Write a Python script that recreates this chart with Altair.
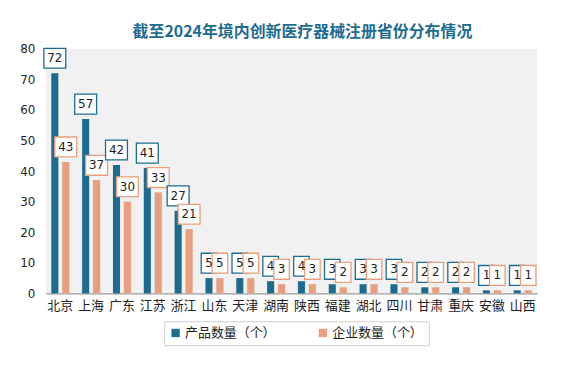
import altair as alt
import pandas as pd

provinces = ["北京", "上海", "广东", "江苏", "浙江", "山东", "天津", "湖南",
             "陕西", "福建", "湖北", "四川", "甘肃", "重庆", "安徽", "山西"]
products = [72, 57, 42, 41, 27, 5, 5, 4, 4, 3, 3, 3, 2, 2, 1, 1]
companies = [43, 37, 30, 33, 21, 5, 5, 3, 3, 2, 3, 2, 2, 2, 1, 1]
series = ["产品数量（个）", "企业数量（个）"]
colors = ["#1D6B8F", "#E89F7E"]

rows = []
for p, a, b in zip(provinces, products, companies):
    rows.append({"省份": p, "系列": series[0], "数量": a})
    rows.append({"省份": p, "系列": series[1], "数量": b})
df = pd.DataFrame(rows)

FONT = "Noto Sans CJK SC"

x = alt.X("省份:N", sort=provinces, title=None,
          scale=alt.Scale(paddingInner=0.29, paddingOuter=0.115),
          axis=alt.Axis(labelAngle=0, labelFontSize=13, labelFont=FONT, labelColor="#222222",
                        domainColor="#999999", ticks=False, labelPadding=6, domainWidth=1.2))
xo = alt.XOffset("系列:N", sort=series, scale=alt.Scale(paddingInner=0, paddingOuter=0))
color = alt.Color("系列:N", sort=series, scale=alt.Scale(domain=series, range=colors),
                  legend=alt.Legend(title=None, orient="none", legendX=119, legendY=274,
                                    direction="horizontal",
                                    symbolType="square", symbolSize=70, labelFontSize=13,
                                    labelFont=FONT, labelColor="#222222", columnPadding=40,
                                    strokeColor="#d0d0d0", padding=5,
                                    symbolStrokeWidth=0, labelOffset=3))
y = alt.Y("数量:Q", title=None, scale=alt.Scale(domain=[0, 80]),
          axis=alt.Axis(values=list(range(0, 81, 10)), grid=False, domain=False, ticks=False,
                        labelFontSize=12, labelFont="DejaVu Sans", labelColor="#222222",
                        labelPadding=11))
stroke = alt.Stroke("系列:N", sort=series, scale=alt.Scale(domain=series, range=colors),
                    legend=None)

base = alt.Chart(df)

shadow = base.mark_bar(color="#cfcfcf", opacity=0.55, xOffset=-3, size=8).encode(
    x=x, xOffset=xo, y=y)
bars = base.mark_bar(size=7).encode(x=x, xOffset=xo, y=y, color=color)
wide_boxes = base.transform_filter("datum['数量'] >= 10").mark_point(
    shape="M-1.1,-1L1.1,-1L1.1,1L-1.1,1Z", size=400, filled=True, fill="white",
    strokeWidth=1.3, yOffset=-15, opacity=1).encode(x=x, xOffset=xo, y=y, stroke=stroke)
narrow_boxes = base.transform_filter("datum['数量'] < 10").mark_point(
    shape="M-0.78,-1L0.78,-1L0.78,1L-0.78,1Z", size=400, filled=True, fill="white",
    strokeWidth=1.3, yOffset=-15, opacity=1).encode(x=x, xOffset=xo, y=y, stroke=stroke)
labels = base.mark_text(fontSize=12, font="DejaVu Sans", color="#222222", yOffset=-15,
                        baseline="middle").encode(
    x=x, xOffset=xo, y=y, text="数量:Q")

chart = alt.layer(shadow, bars, wide_boxes, narrow_boxes, labels).properties(
    width=494, height=246,
    padding={"left": 11, "top": 15, "right": 40, "bottom": 10},
    background="white",
    title=alt.TitleParams("截至2024年境内创新医疗器械注册省份分布情况", fontSize=16,
                          font=FONT, fontWeight="bold", color="#1D6B8F", offset=3,
                          anchor="middle", dx=11),
).configure_view(fill="#f1f1f1", stroke=None)

chart.save("out.html", embed_options={"renderer": "svg", "actions": False})
